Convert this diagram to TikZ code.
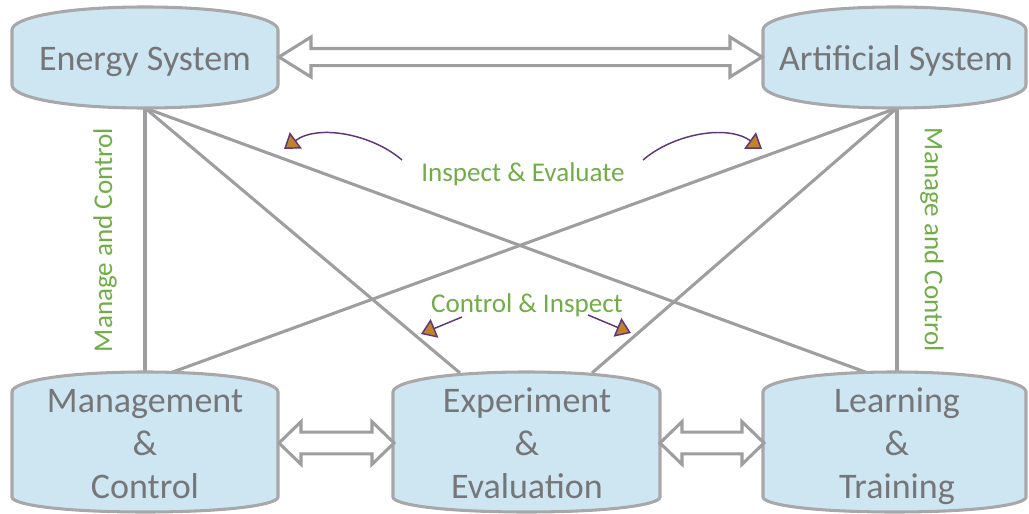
\documentclass[tikz,border=0pt]{standalone}
\usepackage{fontspec}
\setmainfont{Carlito}
\usetikzlibrary{arrows.meta,calc}
\definecolor{bodyfill}{RGB}{205,230,242}
\definecolor{bodyline}{RGB}{168,168,170}
\definecolor{linkgray}{RGB}{158,158,160}
\definecolor{txtgray}{RGB}{118,118,120}
\definecolor{lblgreen}{RGB}{112,173,71}
\definecolor{tipfill}{RGB}{192,130,42}
\definecolor{tipline}{RGB}{95,55,120}
% body shape: L R T Tc Bc B
\newcommand\bodyshape[6]{%
  \path[body] (#1,#4)
    .. controls (#1,{#4-0.5*(#4-#3)}) and ({#1+0.18*(#2-#1)},#3) .. ({(#1+#2)/2},#3)
    .. controls ({#2-0.18*(#2-#1)},#3) and (#2,{#4-0.5*(#4-#3)}) .. (#2,#4)
    -- (#2,#5)
    .. controls (#2,{#5+0.5*(#6-#5)}) and ({#2-0.18*(#2-#1)},#6) .. ({(#1+#2)/2},#6)
    .. controls ({#1+0.18*(#2-#1)},#6) and (#1,{#5+0.5*(#6-#5)}) .. (#1,#5)
    -- cycle;}
% hollow double arrow between two named coordinates: from to headlen headhalf shafthalf
\newcommand\hollowlink[5]{%
  \draw[dbl] let \p1=(#1), \p2=(#2) in
    (\x1,\y1) -- ({\x1+#3},{\y1+#4}) -- ({\x1+#3},{\y1+#5}) -- ({\x2-#3},{\y1+#5})
    -- ({\x2-#3},{\y1+#4}) -- (\x2,\y1) -- ({\x2-#3},{\y1-#4}) -- ({\x2-#3},{\y1-#5})
    -- ({\x1+#3},{\y1-#5}) -- ({\x1+#3},{\y1-#4}) -- cycle;}
\tikzset{
  body/.style={fill=bodyfill, draw=bodyline, line width=2.3pt},
  bodytext/.style={text=txtgray, font=\fontsize{27}{32.3}\selectfont, align=center, inner sep=0pt},
  link/.style={draw=linkgray, line width=2.3pt},
  dbl/.style={draw=linkgray, fill=white, line width=2.3pt, line join=miter},
  lbl/.style={text=lblgreen, font=\fontsize{20.3}{24}\selectfont, inner sep=0pt},
  carrow/.style={draw=tipline, line width=1.1pt, -{Triangle[length=11pt,width=15pt,fill=tipfill]}},
}
\begin{document}
\begin{tikzpicture}[x=0.75pt,y=-0.75pt]
\useasboundingbox (0,0) rectangle (1029,514);
% attachment points
\coordinate (es-b) at (145,108);
\coordinate (as-b) at (897,108);
\coordinate (mc-t1) at (145,373);
\coordinate (mc-t2) at (170,373);
\coordinate (ee-t1) at (460,373);
\coordinate (ee-t2) at (592,373);
\coordinate (lt-t1) at (868,373);
\coordinate (lt-t2) at (897,373);
\coordinate (es-r) at (279,57);
\coordinate (as-l) at (762,57);
\coordinate (mc-r) at (279,443);
\coordinate (ee-l) at (394,443);
\coordinate (ee-r) at (660,443);
\coordinate (lt-l) at (764,443);
% connectors
\draw[link] (es-b) -- (mc-t1);
\draw[link] (es-b) -- (ee-t1);
\draw[link] (es-b) -- (lt-t1);
\draw[link] (as-b) -- (lt-t2);
\draw[link] (as-b) -- (ee-t2);
\draw[link] (as-b) -- (mc-t2);
% bodies
\bodyshape{12}{278}{7}{30}{85}{108}
\bodyshape{763}{1026}{7}{30}{85}{108}
\bodyshape{12}{278}{372}{392}{497}{512}
\bodyshape{393}{660}{372}{392}{497}{512}
\bodyshape{763}{1026}{372}{392}{497}{512}
% texts
\node[bodytext, anchor=base] (es) at (145,70) {Energy System};
\node[bodytext, anchor=base] (as) at (896,70) {Artificial System};
\node[bodytext, anchor=north] (mc) at (145,382) {Management\strut\\\&\\Control};
\node[bodytext, anchor=north] (ee) at (527,382) {Experiment\strut\\\&\\Evaluation};
\node[bodytext, anchor=north] (lt) at (897,382) {Learning\strut\\\&\\Training};
% hollow double arrows
\hollowlink{es-r}{as-l}{24pt}{15pt}{6.4pt}
\hollowlink{mc-r}{ee-l}{16.5pt}{16pt}{8.2pt}
\hollowlink{ee-r}{lt-l}{16.5pt}{16pt}{8.2pt}
% labels
\node[lbl, rotate=90] (mcl) at (105,240) {Manage and Control};
\node[lbl, rotate=-90] (mcr) at (932,240) {Manage and Control};
\node[lbl, anchor=base] (ie) at (523,181) {Inspect \& Evaluate};
\node[lbl, anchor=base] (ci) at (527,312) {Control \& Inspect};
% curved / short arrows
\coordinate (ie-ls) at (402,160);
\coordinate (ie-le) at (284,149);
\coordinate (ie-rs) at (643,160);
\coordinate (ie-re) at (762,149);
\coordinate (ci-ls) at (462,317);
\coordinate (ci-le) at (421,334);
\coordinate (ci-rs) at (588,315);
\coordinate (ci-re) at (631,333);
\draw[carrow] (ie-ls) .. controls (372,134) and (318,124) .. (ie-le);
\draw[carrow] (ie-rs) .. controls (673,134) and (727,124) .. (ie-re);
\draw[carrow] (ci-ls) -- (ci-le);
\draw[carrow] (ci-rs) -- (ci-re);
\end{tikzpicture}
\end{document}
